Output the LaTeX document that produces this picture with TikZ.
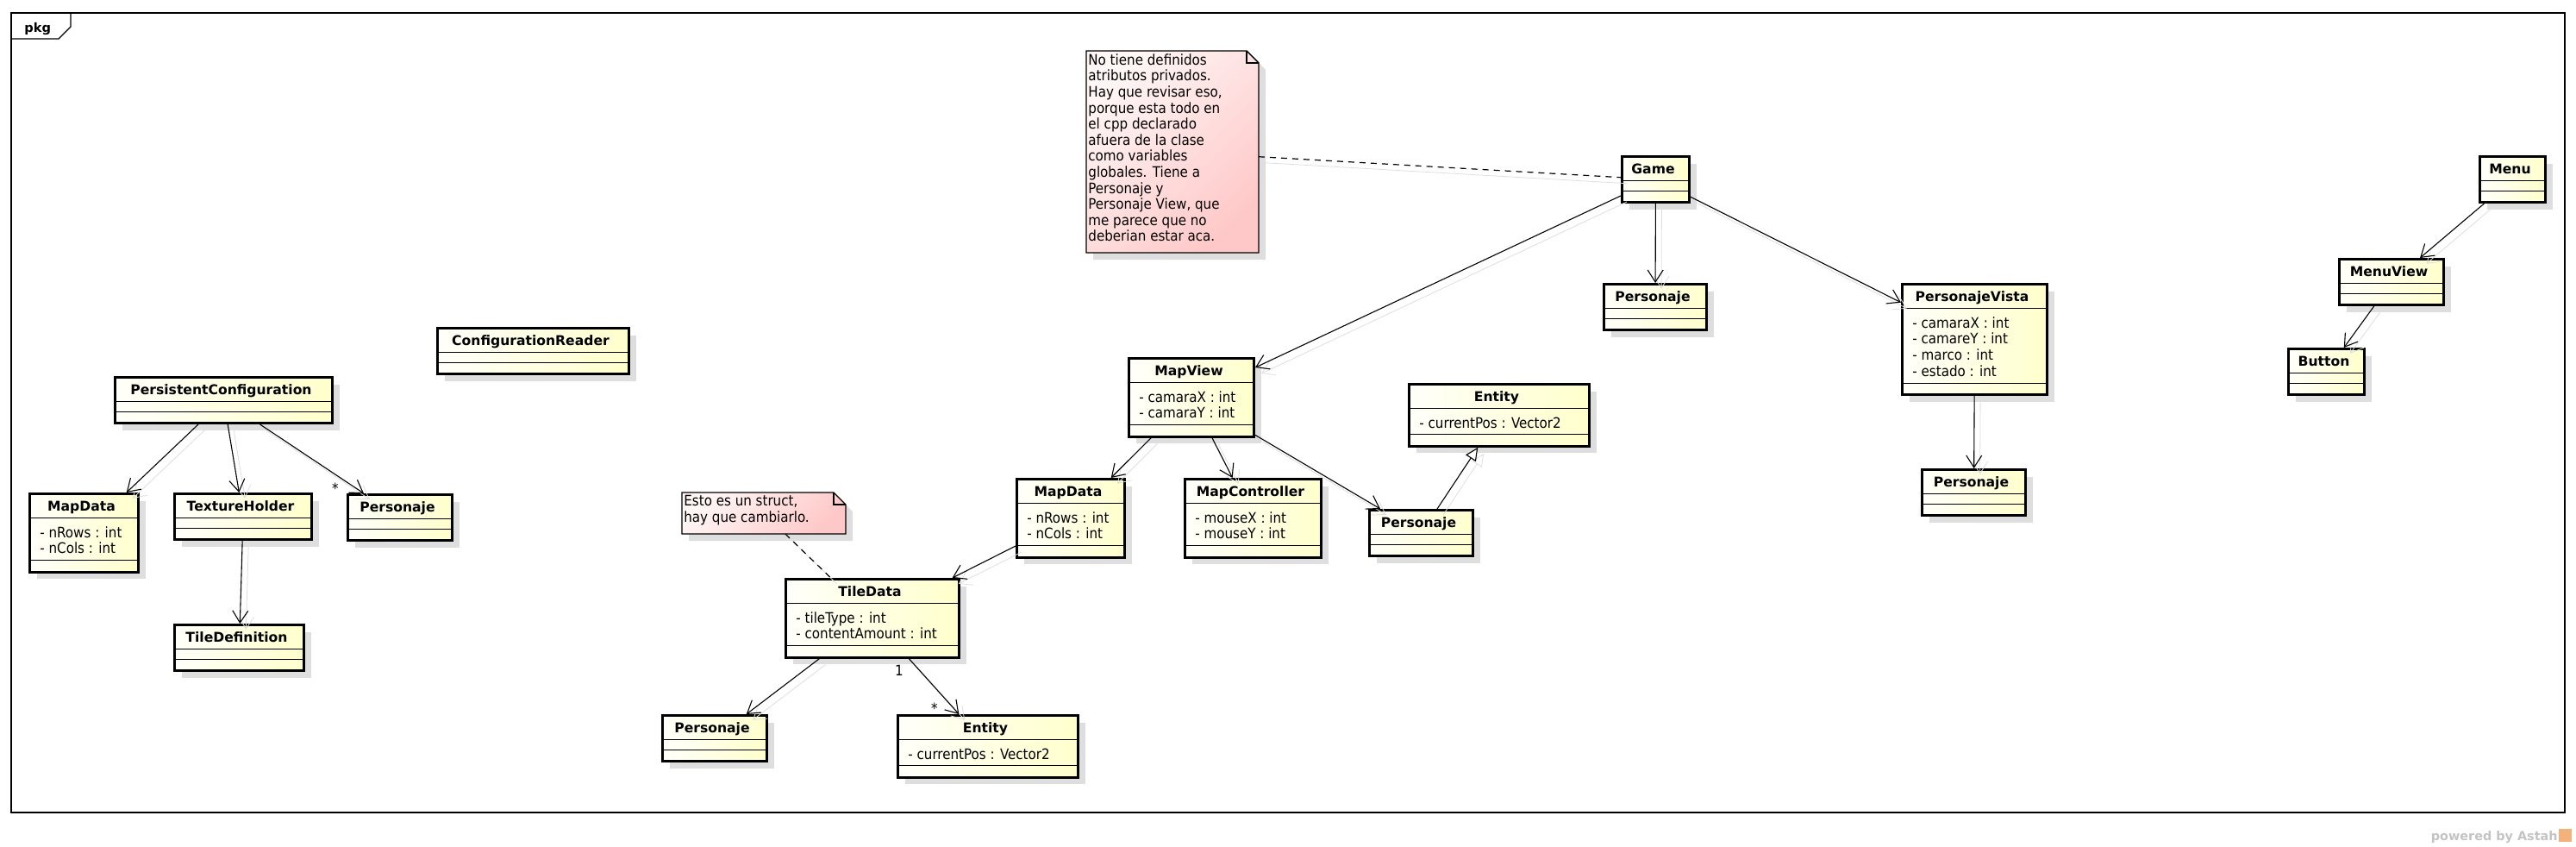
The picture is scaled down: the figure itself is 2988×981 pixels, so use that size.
\documentclass[tikz,border=0pt]{standalone}
\usepackage{fontspec}
\setmainfont{DejaVu Sans}
\newfontfamily\attfont{DejaVu Sans Condensed}
\usepackage{tikz}
\definecolor{clsA}{RGB}{255, 255, 250}
\definecolor{clsB}{RGB}{255, 255, 204}
\definecolor{notA}{RGB}{255, 246, 246}
\definecolor{notB}{RGB}{255, 200, 200}
\definecolor{shd}{RGB}{222, 222, 222}
\definecolor{wm}{RGB}{195, 195, 195}
\definecolor{logo}{RGB}{243, 178, 122}
\usetikzlibrary{arrows.meta}
\usetikzlibrary{shadows}

\tikzset{
  cls/.style={draw=black, line width=1.5pt, left color=clsA, right color=clsB, inner sep=0pt, outer sep=0.75pt,
    drop shadow={shadow xshift=4pt, shadow yshift=-4pt, fill=shd, opacity=1}},
  clsname/.style={anchor=base, inner sep=0pt, font=\bfseries\fontsize{7.8}{9}\selectfont},
  clsatt/.style={anchor=base west, inner sep=0pt, font=\attfont\fontsize{8.4}{9}\selectfont},
  sep/.style={line width=0.5pt, color=black},
  note/.style={inner sep=0pt, outer sep=0pt},
  notefill/.style={draw=black, line width=0.7pt, top color=notA, bottom color=notB, shading angle=45},
  notetext/.style={anchor=north west, align=left, inner sep=0pt, font=\attfont\fontsize{8.4}{9.3}\selectfont},
  mult/.style={anchor=base, inner sep=0pt, font=\attfont\fontsize{8.4}{9}\selectfont},
  conn/.style={line width=0.55pt, -{Straight Barb[length=7pt, width=9pt]},
    preaction={draw=shd, transform canvas={shift={(3.5pt,-3.5pt)}}}},
  gen/.style={line width=0.55pt, -{Triangle[open, length=7.5pt, width=7pt, fill=white]},
    preaction={draw=shd, transform canvas={shift={(3.5pt,-3.5pt)}}}},
  link/.style={line width=0.6pt, dash pattern=on 3.5pt off 3pt,
    preaction={draw=shd, solid, transform canvas={shift={(3.5pt,-3.5pt)}}}},
  frame/.style={line width=0.7pt, color=black}
}

% id, left, top, width (px), attribute count, name, attributes
\newcommand{\umlclass}[7]{%
  \node (#1) [cls, minimum width={(#4-3)*0.5pt}, minimum height={(53+18.75*#5)*0.5pt}] at ({#2+#4/2},{#3+(56+18.75*#5)/2}) {};
  \node (#1-n) [clsname] at ([xshift=-1.5pt, yshift=-10.5pt]#1.north) {#6};
  \draw [sep] ([yshift=-14.75pt]#1.north west) -- ([yshift=-14.75pt]#1.north east);
  \draw [sep] ([yshift={-(20.5+9.375*#5)*1pt}]#1.north west) -- ([yshift={-(20.5+9.375*#5)*1pt}]#1.north east);
  \ifnum#5>0\relax
    \foreach \att [count=\i] in {#7}
      \node (#1-a\i) [clsatt] at ([xshift=6.5pt, yshift={-(26+9.375*(\i-1))*1pt}]#1.north west) {\att};
  \fi
}

% id, left, top, width, height (px), text
\newcommand{\umlnote}[6]{%
  \node (#1) [note, minimum width={#4*0.5pt}, minimum height={#5*0.5pt}] at ({#2+#4/2},{#3+#5/2}) {};
  \fill [shd, transform canvas={shift={(4pt,-4pt)}}] (#1.north west) -- ([xshift=-7pt]#1.north east) -- ([yshift=-7pt]#1.north east) -- (#1.south east) -- (#1.south west) -- cycle;
  \shade [notefill] (#1.north west) -- ([xshift=-7pt]#1.north east) -- ([yshift=-7pt]#1.north east) -- (#1.south east) -- (#1.south west) -- cycle;
  \draw [line width=0.7pt] ([xshift=-7pt]#1.north east) |- ([yshift=-7pt]#1.north east);
  \node (#1-t) [notetext] at ([xshift=1pt, yshift=-1.6pt]#1.north west) {#6};
}

\begin{document}
\begin{tikzpicture}[x=0.5pt, y=-0.5pt]
\useasboundingbox (0,0) rectangle (2988,981);
\draw [frame] (13,15) rectangle (2975,942);
\draw [frame] (13,45) -- (68,45) -- (82,31) -- (82,15);
\node (pkg) [anchor=base west, inner sep=0pt, font=\bfseries\fontsize{7.3}{9}\selectfont] at (28,37) {pkg};
\node (astah) [anchor=base east, inner sep=0pt, text=wm, font=\bfseries\fontsize{7.2}{9}\selectfont] at (2967,974) {powered by Astah};
\fill [logo] (2968,961) rectangle (2983,976);

\umlclass{1}{132}{436}{255}{0}{PersistentConfiguration}{}
\umlclass{2}{33}{571}{129}{2}{MapData}{- nRows : int, - nCols : int}
\umlclass{3}{201}{571}{162}{0}{TextureHolder}{}
\umlclass{4}{402}{572}{124}{0}{Personaje}{}
\umlclass{5}{201}{723}{153}{0}{TileDefinition}{}
\umlclass{6}{506}{379}{225}{0}{ConfigurationReader}{}
\umlclass{7}{1880}{180}{81}{0}{Game}{}
\umlclass{8}{1859}{328}{122}{0}{Personaje}{}
\umlclass{9}{2205}{328}{171}{4}{PersonajeVista}{- camaraX : int, - camareY : int, - marco : int, - estado : int}
\umlclass{10}{2228}{543}{123}{0}{Personaje}{}
\umlclass{11}{2875}{180}{79}{0}{Menu}{}
\umlclass{12}{2712}{299}{124}{0}{MenuView}{}
\umlclass{13}{2653}{403}{91}{0}{Button}{}
\umlclass{14}{1308}{414}{148}{2}{MapView}{- camaraX : int, - camaraY : int}
\umlclass{15}{1178}{554}{128}{2}{MapData}{- nRows : int, - nCols : int}
\umlclass{16}{1373}{554}{161}{2}{MapController}{- mouseX : int, - mouseY : int}
\umlclass{17}{1633}{444}{212}{1}{Entity}{- currentPos : Vector2}
\umlclass{18}{1587}{590}{123}{0}{Personaje}{}
\umlclass{19}{910}{670}{204}{2}{TileData}{- tileType : int, - contentAmount : int}
\umlclass{20}{767}{828}{124}{0}{Personaje}{}
\umlclass{21}{1040}{828}{212}{1}{Entity}{- currentPos : Vector2}

\umlnote{22}{1260}{59}{200}{234}{No tiene definidos\\atributos privados.\\Hay que revisar eso,\\porque esta todo en\\el cpp declarado\\afuera de la clase\\como variables\\globales. Tiene a\\Personaje y\\Personaje View, que\\me parece que no\\deberian estar aca.}
\umlnote{23}{791}{571}{190}{48}{Esto es un struct,\\hay que cambiarlo.}

\draw [conn] (1) to (2);
\draw [conn] (1) to (3);
\draw [conn] (1) to (4);
\draw [conn] (3) to (5);
\draw [conn] (7) to (14);
\draw [conn] (7) to (8);
\draw [conn] (7) to (9);
\draw [conn] (9) to (10);
\draw [conn] (11) to (12);
\draw [conn] (12) to (13);
\draw [conn] (14) to (15);
\draw [conn] (14) to (16);
\draw [conn] (14) to (18);
\draw [gen] (18) to (17);
\draw [conn] (15) to (19);
\draw [conn] (19) to (20);
\draw [conn] (19) to (21);
\draw [link] (22) to (7);
\draw [link] (23) to (19);

\node (m1) [mult] at (389,572) {*};
\node (m2) [mult] at (1043,783) {1};
\node (m3) [mult] at (1084,827) {*};
\end{tikzpicture}
\end{document}
